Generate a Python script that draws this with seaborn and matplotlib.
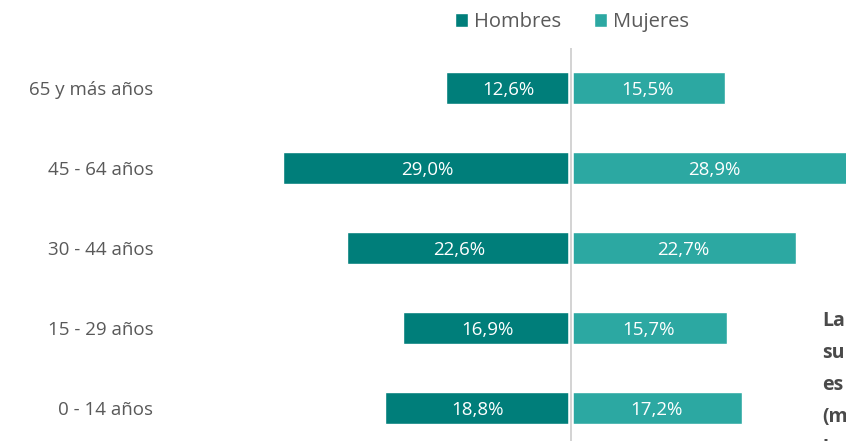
import matplotlib
matplotlib.use("Agg")
import matplotlib.pyplot as plt
import seaborn as sns
import pandas as pd
from matplotlib.patches import Patch

categories = ["65 y más años", "45 - 64 años", "30 - 44 años", "15 - 29 años", "0 - 14 años"]
hombres = [12.6, 29.0, 22.6, 16.9, 18.8]
mujeres = [15.5, 28.9, 22.7, 15.7, 17.2]
series = ["Hombres", "Mujeres"]
side_text = ["La", "su", "es", "(m", "l"]

c_h = "#007E7A"
c_m = "#2CA8A2"

sns.set_theme(style="white")
plt.rcParams["font.family"] = ["Open Sans", "DejaVu Sans"]

df = pd.DataFrame({
    "grupo": categories * 2,
    "valor": [-v for v in hombres] + mujeres,
    "sexo": [series[0]] * len(categories) + [series[1]] * len(categories),
})

W, H = 846, 441
fig = plt.figure(figsize=(W / 100, H / 100), dpi=100)
ax_left_px = 170
ax = fig.add_axes([ax_left_px / W, 1 - 448 / H, (W - ax_left_px) / W, 400 / H])

sns.barplot(data=df, y="grupo", x="valor", hue="sexo", order=categories,
            hue_order=series, palette=[c_h, c_m], dodge=False, width=0.39,
            orient="h", ax=ax, legend=False, saturation=1)

ppu = 9.92
ax.set_xlim(-(571 - ax_left_px) / ppu, (W - 571) / ppu)
ax.set_ylim(4.5, -0.5)
ax.axvline(0, color="white", lw=4, zorder=5)
ax.axvline(0, color="#D0D0D0", lw=1.3, zorder=6)

for i, (h, m) in enumerate(zip(hombres, mujeres)):
    ax.text(-h / 2, i + 0.02, f"{h:.1f}%".replace(".", ","), ha="center", va="center",
            color="white", fontsize=13.5, zorder=7)
    ax.text(m / 2, i + 0.02, f"{m:.1f}%".replace(".", ","), ha="center", va="center",
            color="white", fontsize=13.5, zorder=7, clip_on=True)

ax.set_xlabel("")
ax.set_ylabel("")
ax.set_xticks([])
ax.tick_params(axis="y", length=0, pad=12, labelsize=13.5, labelcolor="#595959")
for s in ax.spines.values():
    s.set_visible(False)

handles = [Patch(facecolor=c_h, label=series[0]), Patch(facecolor=c_m, label=series[1])]
fig.legend(handles=handles, loc="center", bbox_to_anchor=(572 / W, 1 - 22 / H), ncol=2,
           frameon=False, fontsize=14.5, handlelength=0.65, handleheight=0.65,
           handletextpad=0.3, columnspacing=1.6, labelcolor="#595959")

for k, t in enumerate(side_text):
    fig.text(822 / W, 1 - (321 + 32 * k) / H, t, ha="left", va="center",
             fontsize=14, fontweight="bold", color="#4A4A4A")

fig.savefig("out.png", dpi=100)
